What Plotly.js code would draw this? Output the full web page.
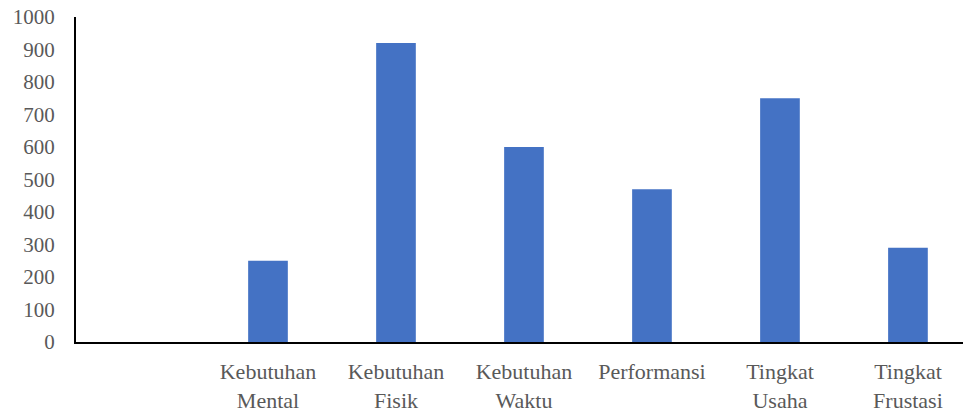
<!DOCTYPE html>
<html>
<head>
<meta charset="utf-8">
<script src="https://cdn.plot.ly/plotly-3.0.1.min.js"></script>
<style>html,body{margin:0;padding:0;background:#fff;}#chart{width:963px;height:412px;}</style>
</head>
<body>
<div id="chart"></div>
<script>
var categories = ["", "Kebutuhan<br>Mental", "Kebutuhan<br>Fisik", "Kebutuhan<br>Waktu", "Performansi", "Tingkat<br>Usaha", "Tingkat<br>Frustasi"];
var values = [null, 250, 920, 600, 470, 750, 290];
var yTicks = [0, 100, 200, 300, 400, 500, 600, 700, 800, 900, 1000];

var xIdx = categories.map(function (_, i) { return i; });
var yFont = {family: "Liberation Serif, serif", size: 21, color: "#595959"};
var xFont = {family: "Liberation Serif, serif", size: 22, color: "#595959"};

Plotly.newPlot("chart", [{
  type: "bar",
  x: xIdx,
  y: values,
  marker: {color: "#4472C4"},
  width: 0.31,
  hoverinfo: "none"
}], {
  width: 963, height: 412,
  margin: {l: 76, r: 0, t: 17, b: 70},
  paper_bgcolor: "#fff", plot_bgcolor: "#fff",
  showlegend: false,
  font: yFont,
  xaxis: {
    range: [-0.5, 6.43],
    tickmode: "array", tickvals: xIdx, ticktext: categories,
    showgrid: false, zeroline: false,
    showline: true, linecolor: "#000", linewidth: 2,
    ticks: "", tickfont: xFont, ticklabelstandoff: 9
  },
  yaxis: {
    range: [0, 1000],
    tickmode: "array", tickvals: yTicks,
    showgrid: false, zeroline: false,
    showline: true, linecolor: "#000", linewidth: 2,
    ticks: "", tickfont: yFont, ticklabelstandoff: 15
  }
}, {staticPlot: true});
</script>
</body>
</html>
